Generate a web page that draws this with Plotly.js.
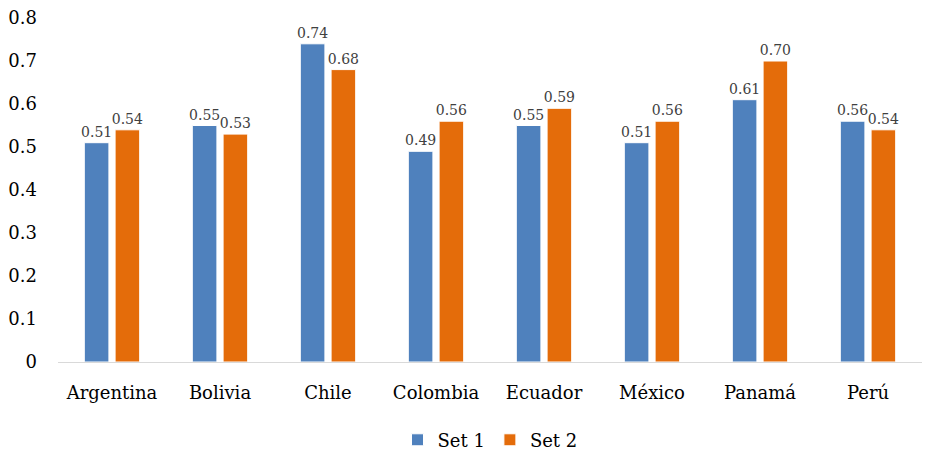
<!DOCTYPE html>
<html>
<head>
<meta charset="utf-8">
<script src="https://cdn.plot.ly/plotly-3.0.1.min.js"></script>
<style>
  html, body { margin: 0; padding: 0; background: #fff; }
  #chart { width: 927px; height: 455px; }
</style>
</head>
<body>
<div id="chart"></div>
<script>
// Countries on the category axis
const countries = ['Argentina', 'Bolivia', 'Chile', 'Colombia', 'Ecuador', 'México', 'Panamá', 'Perú'];
// Index values per country for each set
const set1 = [0.51, 0.55, 0.74, 0.49, 0.55, 0.51, 0.61, 0.56];
const set2 = [0.54, 0.53, 0.68, 0.56, 0.59, 0.56, 0.70, 0.54];
const yTicks = [0, 0.1, 0.2, 0.3, 0.4, 0.5, 0.6, 0.7, 0.8];
const yTickText = ['0', '0.1', '0.2', '0.3', '0.4', '0.5', '0.6', '0.7', '0.8'];

const serif = 'DejaVu Serif';

function barTrace(name, values, color) {
  return {
    type: 'bar',
    name: name,
    x: countries,
    y: values,
    text: values.map(v => v.toFixed(2)),
    textposition: 'outside',
    constraintext: 'none',
    textfont: { family: serif, size: 14, color: '#404040' },
    cliponaxis: false,
    marker: { color: color, line: { color: '#ffffff', width: 1 } },
    hoverinfo: 'x+y'
  };
}

const data = [
  barTrace('Set 1', set1, '#4f81bd'),
  barTrace('Set 2', set2, '#e46c0a')
];

const layout = {
  width: 927,
  height: 455,
  margin: { l: 58, r: 5, t: 18, b: 93, autoexpand: false },
  paper_bgcolor: '#ffffff',
  plot_bgcolor: '#ffffff',
  barmode: 'group',
  bargap: 0.43,
  bargroupgap: 0.2,
  font: { family: serif, size: 18, color: '#000000' },
  xaxis: {
    type: 'category',
    showgrid: false,
    showline: true,
    linecolor: '#d9d9d9',
    linewidth: 1,
    ticks: '',
    tickfont: { family: serif, size: 18, color: '#000000' },
    ticklabelstandoff: 14,
    zeroline: false
  },
  yaxis: {
    range: [0, 0.8],
    tickmode: 'array',
    tickvals: yTicks,
    ticktext: yTickText,
    showgrid: false,
    showline: false,
    zeroline: false,
    ticks: '',
    tickfont: { family: serif, size: 18, color: '#000000' },
    ticklabelstandoff: 20
  },
  legend: {
    orientation: 'h',
    x: 0.5,
    xanchor: 'center',
    y: -0.227,
    yanchor: 'middle',
    font: { family: serif, size: 18, color: '#000000' },
    itemwidth: 30,
    tracegroupgap: 0
  },
  showlegend: true
};

Plotly.newPlot('chart', data, layout, { displayModeBar: false, staticPlot: true });
</script>
</body>
</html>
